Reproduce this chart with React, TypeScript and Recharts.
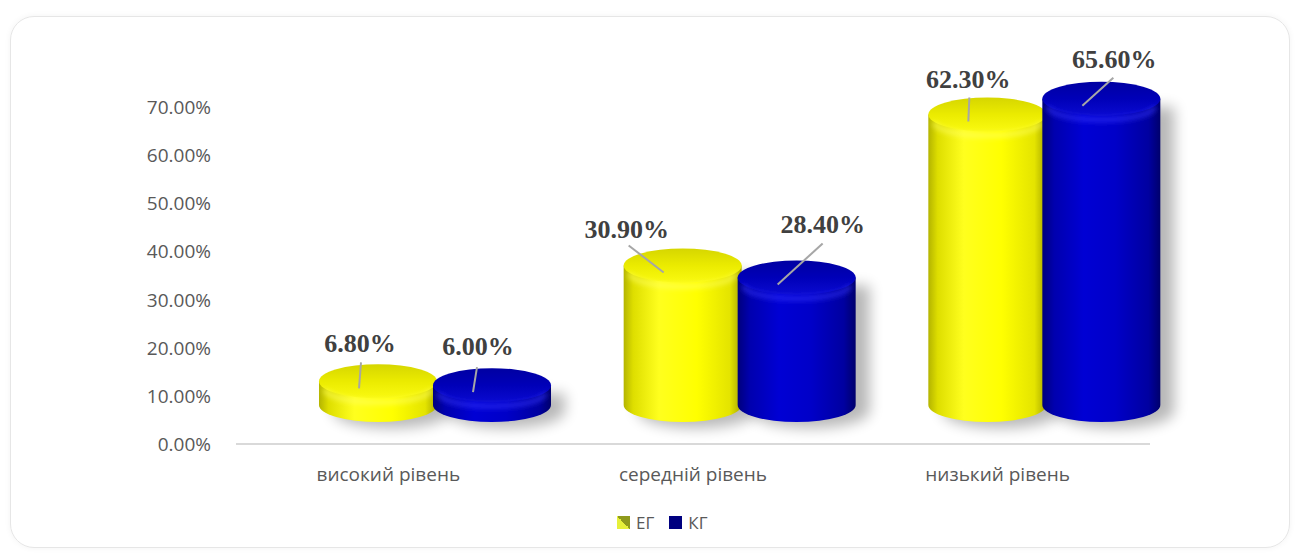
import React from 'react';
import { BarChart, Bar, XAxis, YAxis, LabelList } from 'recharts';

const CATEGORIES = ['високий рівень', 'середній рівень', 'низький рівень'];
const EG_VALUES = [6.8, 30.9, 62.3];
const KG_VALUES = [6.0, 28.4, 65.6];
const SERIES_NAMES = ['ЕГ', 'КГ'];
const Y_TICKS = [0, 10, 20, 30, 40, 50, 60, 70];

const data = CATEGORIES.map((category, i) => ({
  category,
  EG: EG_VALUES[i],
  KG: KG_VALUES[i],
}));

type Kind = 'EG' | 'KG';

const STYLE: Record<Kind, any> = {
  EG: {
    dx: 48,
    side: [
      [0, '#b4b400'],
      [0.08, '#dede00'],
      [0.3, '#ffff1e'],
      [0.62, '#ffff00'],
      [0.9, '#e4e400'],
      [1, '#a8a800'],
    ],
    top: [
      [0, '#d6d600'],
      [0.5, '#ebeb00'],
      [1, '#fafa10'],
    ],
    rim: '#ffff66',
  },
  KG: {
    dx: 46,
    side: [
      [0, '#00007c'],
      [0.1, '#0000ae'],
      [0.35, '#0000d4'],
      [0.62, '#0000c8'],
      [0.9, '#0000a0'],
      [1, '#00006c'],
    ],
    top: [
      [0, '#0000a2'],
      [0.5, '#0000b8'],
      [1, '#0a0ad0'],
    ],
    rim: '#3a3aff',
  },
};

// label text / leader placement relative to the cylinder top (styling only)
const LABEL_LAYOUT: Record<Kind, { tx: number; ty: number; lx: number; ly: number }[]> = {
  EG: [
    { tx: -18, ty: -29, lx: -17, ly: -19 },
    { tx: -56, ty: -27, lx: -54, ly: -20 },
    { tx: -19, ty: -27, lx: -18, ly: -17 },
  ],
  KG: [
    { tx: -14, ty: -30, lx: -15, ly: -18 },
    { tx: 26, ty: -44, lx: 26, ly: -34 },
    { tx: 13, ty: -31, lx: 12, ly: -21 },
  ],
};

const geom = (x: number, y: number, width: number, height: number, dx: number) => {
  const cx = x + width / 2 + dx;
  const rx = width / 2 + 1;
  const ry = 17;
  const topCy = y - 30;
  const botCy = Math.max(y + height - 39, topCy);
  return { cx, rx, ry, topCy, botCy };
};

const makeCylinder = (kind: Kind) => (props: any) => {
  const { x, y, width, height, index } = props;
  if ([x, y, width, height].some((v) => typeof v !== 'number' || isNaN(v))) return <g />;
  const st = STYLE[kind];
  const { cx, rx, ry, topCy, botCy } = geom(x, y, width, height, st.dx);
  const id = `${kind}-${index}`;
  const side = `M ${cx - rx},${topCy} L ${cx - rx},${botCy} A ${rx},${ry} 0 0 0 ${cx + rx},${botCy} L ${cx + rx},${topCy} Z`;
  const shadow = `M ${cx - rx + 14},${topCy + 8} L ${cx - rx + 14},${botCy + 6} A ${rx},${ry} 0 0 0 ${cx + rx + 14},${botCy + 6} L ${cx + rx + 14},${topCy + 8} Z`;
  const rim = `M ${cx - rx + 6},${topCy + 8} A ${rx - 6},${ry - 4} 0 0 0 ${cx + rx - 6},${topCy + 8}`;
  return (
    <g>
      <defs>
        <linearGradient id={`side-${id}`} x1="0" y1="0" x2="1" y2="0">
          {st.side.map(([o, c]: any) => (
            <stop key={o} offset={o} stopColor={c} />
          ))}
        </linearGradient>
        <linearGradient id={`top-${id}`} x1="0" y1="0" x2="0" y2="1">
          {st.top.map(([o, c]: any) => (
            <stop key={o} offset={o} stopColor={c} />
          ))}
        </linearGradient>
        <filter id={`blur-${id}`} x="-50%" y="-50%" width="200%" height="200%">
          <feGaussianBlur stdDeviation="7" />
        </filter>
        <filter id={`soft-${id}`} x="-20%" y="-100%" width="140%" height="300%">
          <feGaussianBlur stdDeviation="2.5" />
        </filter>
      </defs>
      <path d={shadow} fill="#000" opacity={0.28} filter={`url(#blur-${id})`} />
      <path d={side} fill={`url(#side-${id})`} />
      <ellipse cx={cx} cy={topCy} rx={rx} ry={ry} fill={`url(#top-${id})`} />
      <path
        d={rim}
        fill="none"
        stroke={st.rim}
        strokeOpacity={0.55}
        strokeWidth={5}
        filter={`url(#soft-${id})`}
      />
    </g>
  );
};

const makeLabel = (kind: Kind) => (props: any) => {
  const vb = props.viewBox && typeof props.viewBox.x === 'number' ? props.viewBox : props;
  const { x, y, width, height } = vb;
  const { index, value } = props;
  if ([x, y, width, height].some((v) => typeof v !== 'number' || isNaN(v))) return <g />;
  const { cx, topCy } = geom(x, y, width, height, STYLE[kind].dx);
  const lay = LABEL_LAYOUT[kind][index] || { tx: 0, ty: -30, lx: 0, ly: -20 };
  const v = Number(Array.isArray(value) ? value[1] : value);
  return (
    <g>
      <line
        x1={cx + lay.lx}
        y1={topCy + lay.ly}
        x2={cx - 19}
        y2={topCy + 7}
        stroke="#a6a6a6"
        strokeWidth={2}
      />
      <text
        x={cx + lay.tx}
        y={topCy + lay.ty}
        textAnchor="middle"
        fontFamily="'Liberation Serif', 'Times New Roman', serif"
        fontWeight="bold"
        fontSize={26}
        fill="#404040"
      >
        {`${v.toFixed(2)}%`}
      </text>
    </g>
  );
};

const LEGEND_SWATCH: Record<Kind, React.CSSProperties> = {
  EG: { background: 'linear-gradient(45deg, #e6f03a 0%, #e6f03a 50%, #8f9a1c 50%, #8f9a1c 100%)' },
  KG: { background: '#000080' },
};

export default function App() {
  return (
    <div style={{ position: 'relative', width: 1299, height: 553, background: '#fff', overflow: 'hidden' }}>
      <style>{`body{margin:0;background:#fff;}`}</style>
      <div
        style={{
          position: 'absolute',
          left: 10,
          top: 16,
          width: 1278,
          height: 530,
          border: '1.5px solid #e6e6e6',
          borderRadius: 24,
          boxShadow: '0 0 6px rgba(0,0,0,0.05)',
        }}
      />
      <div style={{ position: 'absolute', left: 0, top: 0 }}>
        <BarChart
          width={1299}
          height={553}
          data={data}
          margin={{ top: 107.5, right: 149, bottom: 79, left: 176 }}
          barGap={0}
          barSize={116}
        >
          <YAxis
            type="number"
            domain={[0, 70]}
            ticks={Y_TICKS}
            width={60}
            axisLine={false}
            tickLine={false}
            tickSize={0}
            tickMargin={25}
            tickFormatter={(v: number) => `${v.toFixed(2)}%`}
            tick={{ fontFamily: "'Open Sans', sans-serif", fontSize: 19, fill: '#595959' }}
          />
          <XAxis
            dataKey="category"
            height={30}
            axisLine={{ stroke: '#d9d9d9', strokeWidth: 2 }}
            tickLine={false}
            tickSize={0}
            tickMargin={24}
            tick={{ fontFamily: "'Open Sans', sans-serif", fontSize: 19, fill: '#595959' }}
          />
          <Bar dataKey="EG" name={SERIES_NAMES[0]} isAnimationActive={false} shape={makeCylinder('EG')}>
            <LabelList dataKey="EG" content={makeLabel('EG')} />
          </Bar>
          <Bar dataKey="KG" name={SERIES_NAMES[1]} isAnimationActive={false} shape={makeCylinder('KG')}>
            <LabelList dataKey="KG" content={makeLabel('KG')} />
          </Bar>
        </BarChart>
      </div>
      <div
        style={{
          position: 'absolute',
          left: 617,
          top: 511,
          display: 'flex',
          alignItems: 'center',
          fontFamily: "'Open Sans', sans-serif",
          fontSize: 17,
          color: '#595959',
        }}
      >
        {(['EG', 'KG'] as Kind[]).map((k, i) => (
          <div key={k} style={{ display: 'flex', alignItems: 'center', marginRight: i === 0 ? 15 : 0 }}>
            <span style={{ display: 'inline-block', width: 13, height: 13, marginRight: 6, ...LEGEND_SWATCH[k] }} />
            <span>{SERIES_NAMES[i]}</span>
          </div>
        ))}
      </div>
    </div>
  );
}
